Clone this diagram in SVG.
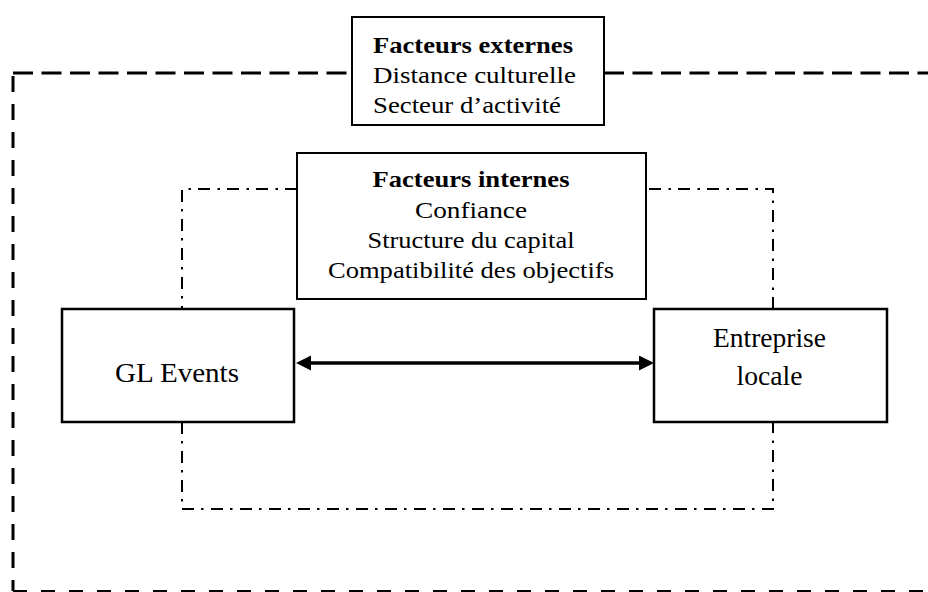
<svg xmlns="http://www.w3.org/2000/svg" width="928" height="592" viewBox="0 0 928 592">
<style>
  .box { fill: #fff; stroke: #000; stroke-width: 2; }
  .box2 { fill: #fff; stroke: #000; stroke-width: 2.5; }
  .t { font-family: "Liberation Serif", "Times New Roman", serif; fill: #000; }
  .s { font-size: 23px; }
  .b { font-weight: bold; }
  .big { font-size: 28px; }
  .dh { fill: none; stroke: #000; stroke-width: 3; stroke-dasharray: 20 8.5; }
  .dv { fill: none; stroke: #000; stroke-width: 3; stroke-dasharray: 16 12; }
  .db { fill: none; stroke: #000; stroke-width: 3; stroke-dasharray: 14 14; }
  .dd { fill: none; stroke: #000; stroke-width: 2; stroke-dasharray: 12 7 2.5 7.5; }
  .arrow { stroke: #000; stroke-width: 3.5; fill: none; }
</style>
<defs>
  <marker id="ah" markerUnits="userSpaceOnUse" markerWidth="16" markerHeight="16" refX="0" refY="7.5" orient="auto-start-reverse">
    <path d="M0,0 L15,7.5 L0,15 z" fill="#000"/>
  </marker>
</defs>
<rect width="928" height="592" fill="#fff"/>

<g id="boundaries">
  <path class="dh" d="M13 73 H352"/>
  <path class="dh" d="M604 73 H928"/>
  <path class="dv" d="M13 76 V591"/>
  <path class="db" d="M13 591.5 H928"/>
  <path class="dd" d="M297 189 H182 V309"/>
  <path class="dd" d="M182 422 V509 H773 V422"/>
  <path class="dd" d="M773 309 V189 H646"/>
</g>

<g id="connectors">
  <line class="arrow" x1="311" y1="363" x2="639" y2="363" marker-start="url(#ah)" marker-end="url(#ah)"/>
</g>

<g id="facteurs-externes">
  <rect class="box" x="352" y="17" width="252" height="108"/>
  <text class="t s b" x="373" y="53" textLength="200" lengthAdjust="spacingAndGlyphs">Facteurs externes</text>
  <text class="t s" x="373" y="83" textLength="203" lengthAdjust="spacingAndGlyphs">Distance culturelle</text>
  <text class="t s" x="373" y="113" textLength="188" lengthAdjust="spacingAndGlyphs">Secteur d’activité</text>
</g>

<g id="facteurs-internes">
  <rect class="box" x="297" y="153" width="349" height="146"/>
  <text class="t s b" x="471" y="187" text-anchor="middle" textLength="197" lengthAdjust="spacingAndGlyphs">Facteurs internes</text>
  <text class="t s" x="471" y="217.5" text-anchor="middle" textLength="112" lengthAdjust="spacingAndGlyphs">Confiance</text>
  <text class="t s" x="471" y="248" text-anchor="middle" textLength="207" lengthAdjust="spacingAndGlyphs">Structure du capital</text>
  <text class="t s" x="471" y="278" text-anchor="middle" textLength="286" lengthAdjust="spacingAndGlyphs">Compatibilité des objectifs</text>
</g>

<g id="gl-events">
  <rect class="box2" x="62" y="309" width="232" height="113"/>
  <text class="t big" x="177" y="381.5" text-anchor="middle" textLength="124" lengthAdjust="spacingAndGlyphs">GL Events</text>
</g>

<g id="entreprise-locale">
  <rect class="box2" x="654" y="309" width="233" height="113"/>
  <text class="t" style="font-size:27.5px" x="769.5" y="347" text-anchor="middle" textLength="113" lengthAdjust="spacingAndGlyphs">Entreprise</text>
  <text class="t" style="font-size:27.5px" x="769.5" y="385" text-anchor="middle" textLength="66" lengthAdjust="spacingAndGlyphs">locale</text>
</g>
</svg>
